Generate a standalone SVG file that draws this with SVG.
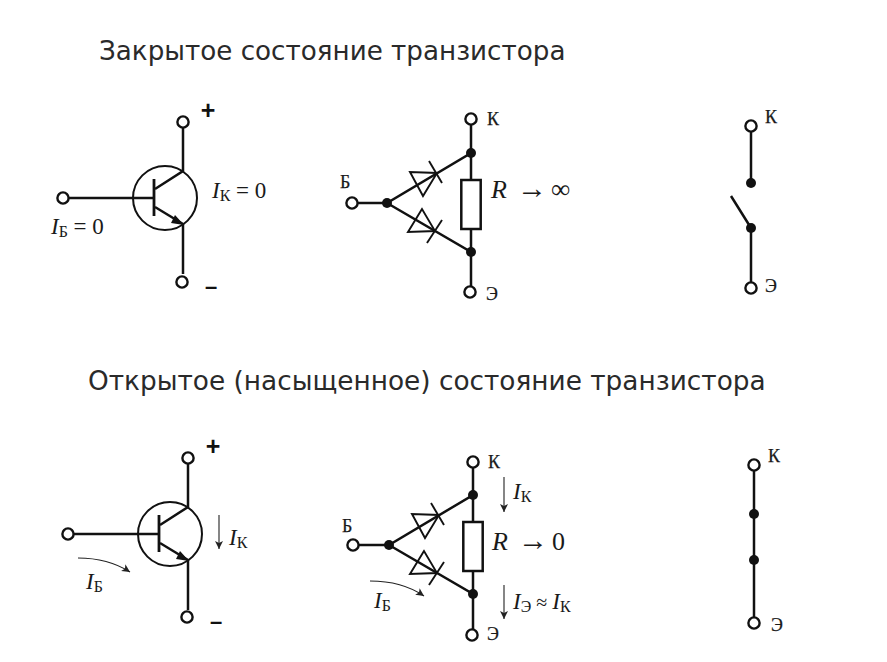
<svg xmlns="http://www.w3.org/2000/svg" width="887" height="662" viewBox="0 0 887 662">
<style>
.w{fill:none;stroke:#111;stroke-width:2.5}
.t{fill:#fff;stroke:#111;stroke-width:2.4}
.d{fill:#111;stroke:none}
.thin{fill:none;stroke:#222;stroke-width:1.1}
.dio{fill:none;stroke:#111;stroke-width:1.9}
.title{font-family:"DejaVu Sans",sans-serif;font-size:26.2px;fill:#2a2a2a}
.m{font-family:"Liberation Serif",serif;font-size:23px;fill:#1a1a1a}
.i{font-style:italic}
.s{font-size:16px}
.l{font-family:"Liberation Serif",serif;font-size:18px;fill:#1a1a1a;stroke:#1a1a1a;stroke-width:.25}
.b{font-family:"Liberation Sans",sans-serif;font-weight:bold;fill:#111}
</style>
<defs>
<marker id="a" markerWidth="9" markerHeight="10" refX="8" refY="5" orient="auto" markerUnits="userSpaceOnUse"><path d="M0 1L8 5L0 9L2 5Z" fill="#222"/></marker>
<g id="bjt">
<circle class="w" style="stroke-width:2" cx="0" cy="0" r="32"/>
<path class="w" d="M-102 0H-11"/>
<path class="w" style="stroke-width:2.8" d="M-11 -19V18"/>
<path class="w" d="M-10 -9L18 -27V-76"/>
<path class="w" d="M-10 9L18 26"/>
<path class="d" d="M19 27L6 25L10 17Z"/>
<path class="w" d="M18 26V76"/>
</g>
<g id="tri">
<path class="w" d="M-119 0H-84L0 -50V-84M-84 0L0 49V89"/>
<path class="w" d="M0 -50V-23M0 26V49"/>
<rect class="w" x="-9.7" y="-23" width="19.4" height="49"/>
<circle class="d" cx="0" cy="-50" r="5"/>
<circle class="d" cx="0" cy="49" r="5"/>
<circle class="d" cx="-84" cy="0" r="5"/>
<path class="dio" d="M-61 -31L-48 -7L-34 -30Z"/>
<path class="dio" d="M-42 -42L-29 -20"/>
<path class="dio" d="M-49 6L-63 29L-36 28Z"/>
<path class="dio" d="M-29 17L-44 40"/>
</g>
</defs>

<g id="title-closed"><text class="title" x="99" y="60">Закрытое состояние транзистора</text></g>
<g id="title-open"><text class="title" x="88" y="390" style="font-size:26.35px">Открытое (насыщенное) состояние транзистора</text></g>

<g id="connectors">
<use href="#bjt" x="165" y="198"/>
<use href="#bjt" x="170" y="534"/>
<use href="#tri" x="471" y="203"/>
<use href="#tri" x="473" y="545"/>
<path class="w" d="M751 126V183M751 228V288M731 196L751 228"/>
<path class="w" d="M754 465V623"/>
<path class="thin" marker-end="url(#a)" d="M219 515V549"/>
<path class="thin" marker-end="url(#a)" d="M78 558Q108 558 130 572"/>
<path class="thin" marker-end="url(#a)" d="M504 477V512"/>
<path class="thin" marker-end="url(#a)" d="M504 585V619"/>
<path class="thin" marker-end="url(#a)" d="M370 581Q402 581 424 596"/>
</g>

<g id="n1-plus"><circle class="t" cx="183" cy="122" r="5.6"/><text class="b" x="208" y="119" font-size="25" text-anchor="middle">+</text></g>
<g id="n1-minus"><circle class="t" cx="182" cy="282" r="5.6"/><text class="b" x="211" y="294" font-size="22" text-anchor="middle">–</text></g>
<g id="n1-base"><circle class="t" cx="63" cy="198" r="5.6"/></g>
<g id="n1-labels"><text class="m" x="212" y="198"><tspan class="i">I</tspan><tspan class="s" dy="3">К</tspan><tspan dy="-3"> = 0</tspan></text><text class="m" x="51" y="234"><tspan class="i">I</tspan><tspan class="s" dy="3">Б</tspan><tspan dy="-3"> = 0</tspan></text></g>

<g id="n2-k"><circle class="t" cx="471" cy="119" r="5.6"/><text class="l" x="487" y="125">К</text></g>
<g id="n2-e"><circle class="t" cx="470" cy="292" r="5.6"/><text class="l" x="486" y="300">Э</text></g>
<g id="n2-b"><circle class="t" cx="352" cy="203" r="5.6"/><text class="l" x="340" y="188">Б</text></g>
<g id="n2-r"><text class="m" x="491" y="198" style="font-size:26px"><tspan class="i">R</tspan></text><text class="m" x="517" y="198" style="font-size:30px">→</text><text class="m" x="551" y="198" style="font-size:27px">∞</text></g>

<g id="n3-k"><circle class="t" cx="751" cy="126" r="5.6"/><text class="l" x="765" y="123">К</text></g>
<circle class="d" cx="751" cy="183" r="5"/>
<circle class="d" cx="751" cy="228" r="5"/>
<g id="n3-e"><circle class="t" cx="751" cy="288" r="5.6"/><text class="l" x="765" y="292">Э</text></g>

<g id="n4-plus"><circle class="t" cx="188" cy="458" r="5.6"/><text class="b" x="213" y="455" font-size="25" text-anchor="middle">+</text></g>
<g id="n4-minus"><circle class="t" cx="187" cy="617" r="5.6"/><text class="b" x="216" y="629" font-size="22" text-anchor="middle">–</text></g>
<g id="n4-base"><circle class="t" cx="68" cy="534" r="5.6"/></g>
<g id="n4-labels"><text class="m" x="229" y="545"><tspan class="i">I</tspan><tspan class="s" dy="3">К</tspan></text><text class="m" x="86" y="589"><tspan class="i">I</tspan><tspan class="s" dy="3">Б</tspan></text></g>

<g id="n5-k"><circle class="t" cx="473" cy="462" r="5.6"/><text class="l" x="488" y="468">К</text></g>
<g id="n5-e"><circle class="t" cx="472" cy="635" r="5.6"/><text class="l" x="487" y="640">Э</text></g>
<g id="n5-b"><circle class="t" cx="353" cy="545" r="5.6"/><text class="l" x="342" y="532">Б</text></g>
<g id="n5-labels"><text class="m" x="492" y="550" style="font-size:26px"><tspan class="i">R</tspan></text><text class="m" x="518" y="550" style="font-size:30px">→</text><text class="m" x="552" y="550" style="font-size:26px">0</text><text class="m" x="513" y="499"><tspan class="i">I</tspan><tspan class="s" dy="3">К</tspan></text><text class="m" x="374" y="608"><tspan class="i">I</tspan><tspan class="s" dy="3">Б</tspan></text><text class="m" x="513" y="609"><tspan class="i">I</tspan><tspan class="s" dy="3">Э</tspan><tspan dy="-3" style="font-size:20px"> ≈ </tspan><tspan class="i">I</tspan><tspan class="s" dy="3">К</tspan></text></g>

<g id="n6-k"><circle class="t" cx="754" cy="465" r="5.6"/><text class="l" x="768" y="462">К</text></g>
<circle class="d" cx="754" cy="514" r="5"/>
<circle class="d" cx="754" cy="560" r="5"/>
<g id="n6-e"><circle class="t" cx="754" cy="623" r="5.6"/><text class="l" x="771" y="631">Э</text></g>
</svg>
